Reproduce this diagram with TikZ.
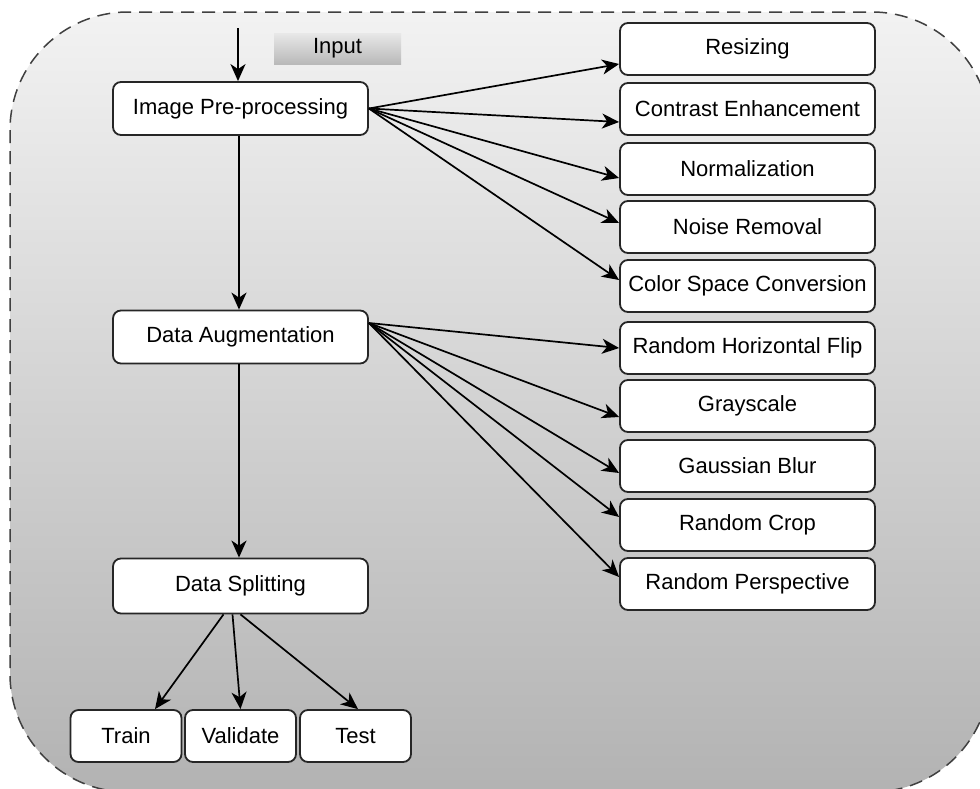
\documentclass[tikz,border=0pt]{standalone}
\usepackage{fontspec}
\setmainfont{Liberation Sans}
\usetikzlibrary{arrows.meta,calc}
\begin{document}
\begin{tikzpicture}[x=1pt,y=-1pt,
  box/.style={draw=black!85,line width=1.8pt,rounded corners=8pt,fill=white,
    minimum width=255pt,minimum height=53pt,inner sep=0pt,
    font=\fontsize{22}{26}\selectfont},
  rbox/.style={box,minimum height=52pt},
  sbox/.style={box,minimum width=111pt,minimum height=52pt},
  arr/.style={line width=1.7pt,draw=black,-{Stealth[length=17pt,width=15pt,inset=5pt]}}]
\useasboundingbox (0,0) rectangle (980,788);
\clip (0,0) rectangle (980,788);
\fill[white] (0,0) rectangle (980,788);
\path[top color=gray!10,bottom color=gray!60,rounded corners=118pt] (10,12) rectangle (990,792);
\draw[black!75,line width=1.5pt,dash pattern=on 13pt off 8pt,rounded corners=118pt] (10,12) rectangle (990,792);

% input label
\node[top color=gray!18,bottom color=gray!55,minimum width=127pt,minimum height=31pt,inner sep=0pt,
  font=\fontsize{22}{26}\selectfont] (inp) at (337.5,48.5) {Input};

% main column
\node[box] (ipp) at (240.5,108.5) {Image Pre-processing};
\node[box] (da) at (240.5,337) {Data Augmentation};
\node[box,minimum height=55pt] (ds) at (240.5,586) {Data Splitting};

% right column
\node[rbox] (r1) at (747.5,49) {Resizing};
\node[rbox] (r2) at (747.5,109) {Contrast Enhancement};
\node[rbox] (r3) at (747.5,169) {Normalization};
\node[rbox] (r4) at (747.5,227) {Noise Removal};
\node[rbox] (r5) at (747.5,286) {Color Space Conversion};
\node[rbox] (a1) at (747.5,348) {Random Horizontal Flip};
\node[rbox] (a2) at (747.5,406) {Grayscale};
\node[rbox] (a3) at (747.5,466) {Gaussian Blur};
\node[rbox] (a4) at (747.5,525) {Random Crop};
\node[rbox] (a5) at (747.5,584) {Random Perspective};

% bottom
\node[sbox] (tr) at (126,736) {Train};
\node[sbox] (va) at (240.5,736) {Validate};
\node[sbox] (te) at (355.5,736) {Test};

% arrows
\coordinate (start) at (238,28);
\draw[arr] (start) -- (ipp.north -| start);
\draw[arr] (ipp.south -| 239,0) -- (da.north -| 239,0);
\draw[arr] (da.south -| 239,0) -- (ds.north -| 239,0);

\coordinate (o1) at (ipp.east);
\draw[arr] (o1) -- ($(r1.west)+(0,15)$);
\draw[arr] (o1) -- ($(r2.west)+(0,13)$);
\draw[arr] (o1) -- ($(r3.west)+(0,9)$);
\draw[arr] (o1) -- ($(r4.west)+(0,-4)$);
\draw[arr] (o1) -- ($(r5.west)+(0,-6)$);

\coordinate (o2) at ($(da.east)+(0,-14)$);
\draw[arr] (o2) -- (a1.west);
\draw[arr] (o2) -- ($(a2.west)+(0,11)$);
\draw[arr] (o2) -- ($(a3.west)+(0,7)$);
\draw[arr] (o2) -- ($(a4.west)+(0,-8)$);
\draw[arr] (o2) -- ($(a5.west)+(0,-7)$);

\draw[arr] ($(ds.south)+(-17,0)$) -- ($(tr.north)+(29,0)$);
\draw[arr] ($(ds.south)+(-8,0)$) -- (va.north);
\draw[arr] ($(ds.south)+(0,0)$) -- ($(te.north)+(2.5,0)$);
\end{tikzpicture}
\end{document}
